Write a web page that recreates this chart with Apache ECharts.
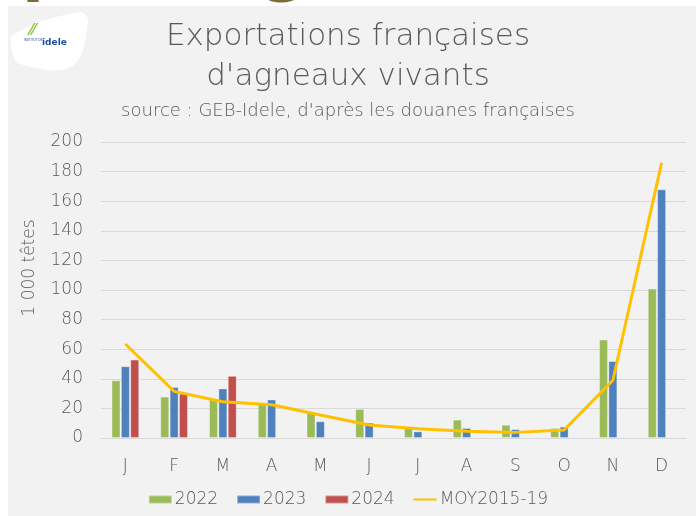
<!DOCTYPE html>
<html>
<head>
<meta charset="utf-8">
<script src="https://cdn.jsdelivr.net/npm/echarts@6/dist/echarts.min.js"></script>
<style>
  html, body { margin: 0; padding: 0; background: #ffffff; }
  #chart { width: 696px; height: 516px; }
</style>
</head>
<body>
<div id="chart"></div>
<script>
const months = ['J', 'F', 'M', 'A', 'M', 'J', 'J', 'A', 'S', 'O', 'N', 'D']
const y2022 = [39, 28, 26, 23, 17, 19.6, 7.7, 12.4, 9, 6.8, 66.5, 101]
const y2023 = [48.5, 34.5, 33.5, 26, 11.3, 10.4, 4.5, 6.8, 6, 7.7, 52, 168]
const y2024 = [53, 30, 42, null, null, null, null, null, null, null, null, null]
const moy = [63.5, 31.5, 24.5, 22.5, 15.5, 8.8, 6.2, 4.6, 3.8, 5.4, 39, 186]

const grey = '#595959'
const font = 'DejaVu Sans'

const chart = echarts.init(document.getElementById('chart'))

const barSeries = (name, data, color) => ({
  name: name,
  type: 'bar',
  data: data,
  barWidth: 9,
  barGap: '4%',
  itemStyle: { color: color, borderColor: 'rgba(255,255,255,0.35)', borderWidth: 1 }
})

chart.setOption({
  animation: false,
  backgroundColor: 'transparent',
  textStyle: { fontFamily: font, color: grey, fontWeight: 200 },
  graphic: [
    // bits of the slide heading sticking out above the panel
    { type: 'text', left: 22, top: -60, z: -20, style: { text: 'p', fontSize: 64, fontFamily: font, fontWeight: 'bold', fill: '#7d6b33' } },
    { type: 'text', left: 262, top: -60, z: -20, style: { text: 'g', fontSize: 64, fontFamily: font, fontWeight: 'bold', fill: '#7d6b33' } },
    { type: 'rect', left: 8, top: 6, z: -10, shape: { width: 688, height: 510 }, style: { fill: '#f2f2f2' } },
    // logo
    { type: 'polygon', z: -5, shape: { points: [[14, 34], [80, 12], [88, 22], [72, 66], [20, 64], [12, 50]], smooth: 0.4 }, style: { fill: '#ffffff' } },
    { type: 'text', left: 30, top: 23, style: { text: '⁄⁄', fontSize: 16, fill: '#8cc63f', fontWeight: 'bold' } },
    { type: 'text', left: 24, top: 39, style: { text: 'INSTITUT DE', fontSize: 3, fill: '#1e4fa0' } },
    { type: 'text', left: 42, top: 38, style: { text: 'idele', fontSize: 9, fontWeight: 'bold', fontFamily: 'DejaVu Sans', fill: '#1e4fa0' } },
    // titles
    { type: 'text', left: 'center', top: 21, style: { text: 'Exportations françaises', fontSize: 31, fontFamily: font, fontWeight: 200, fill: grey } },
    { type: 'text', left: 'center', top: 61, style: { text: "d'agneaux vivants", fontSize: 31, fontFamily: font, fontWeight: 200, fill: grey } },
    { type: 'text', left: 'center', top: 102, style: { text: "source : GEB-Idele, d'après les douanes françaises", fontSize: 18, fontFamily: font, fontWeight: 200, fill: grey } },
    // y axis title
    { type: 'text', x: 30, y: 268, rotation: Math.PI / 2, style: { text: '1 000 têtes', fontSize: 17, fontFamily: font, fontWeight: 200, fill: grey, align: 'center', verticalAlign: 'middle' } }
  ],
  legend: {
    bottom: 3,
    left: 'center',
    itemWidth: 23,
    itemHeight: 8,
    itemGap: 18,
    textStyle: { fontSize: 17, color: grey, fontFamily: font, fontWeight: 200, padding: [0, 0, 0, -2] },
    data: [
      { name: '2022', icon: 'rect' },
      { name: '2023', icon: 'rect' },
      { name: '2024', icon: 'rect' },
      { name: 'MOY2015-19', itemStyle: { opacity: 0 } }
    ]
  },
  grid: { left: 101, right: 10, top: 142, bottom: 78 },
  xAxis: {
    type: 'category',
    data: months,
    axisTick: { show: false },
    axisLine: { lineStyle: { color: '#d9d9d9', width: 1 } },
    axisLabel: { fontSize: 17, color: grey, fontWeight: 200, margin: 20 }
  },
  yAxis: {
    type: 'value',
    min: 0,
    max: 200,
    interval: 20,
    axisLine: { show: false },
    axisTick: { show: false },
    axisLabel: { fontSize: 17, color: grey, fontWeight: 200, margin: 18 },
    splitLine: { lineStyle: { color: '#d9d9d9', width: 1 } }
  },
  series: [
    barSeries('2022', y2022, '#9bbb59'),
    barSeries('2023', y2023, '#4f81bd'),
    barSeries('2024', y2024, '#c0504d'),
    {
      name: 'MOY2015-19',
      type: 'line',
      data: moy,
      symbol: 'none',
      z: 5,
      lineStyle: { color: '#ffc000', width: 3 },
      itemStyle: { color: '#ffc000' }
    }
  ]
})
</script>
</body>
</html>
